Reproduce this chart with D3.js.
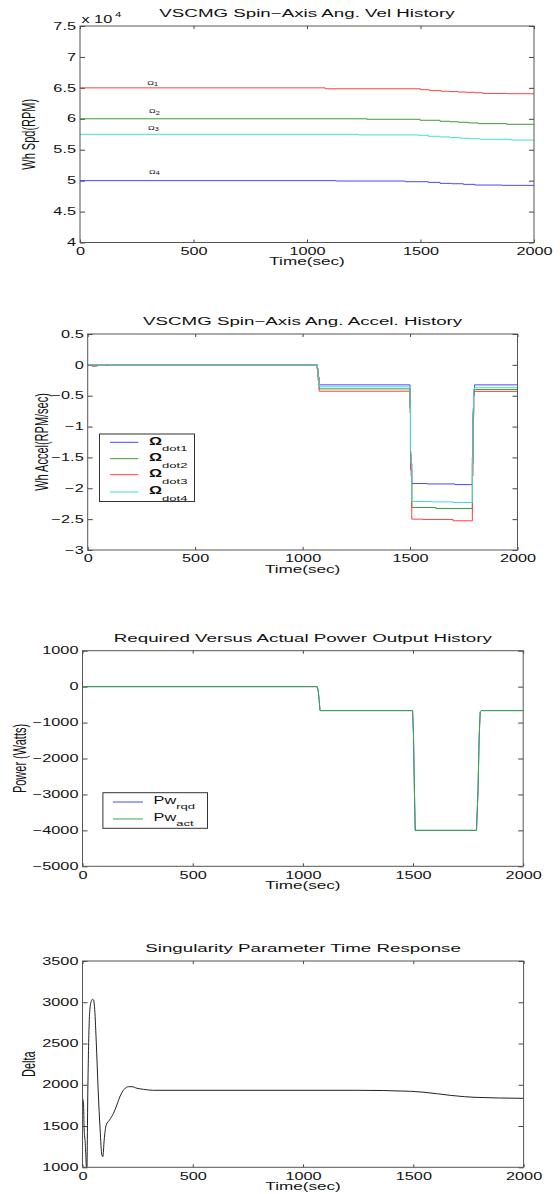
<!DOCTYPE html>
<html>
<head>
<meta charset="utf-8">
<script src="https://cdn.jsdelivr.net/npm/d3@7/dist/d3.min.js"></script>
<style>
body{margin:0;background:#fff}
svg{display:block}
text{font-family:"Liberation Sans",Arial,Helvetica,sans-serif;fill:#111}
</style>
</head>
<body>
<svg id="fig" width="560" height="1194"></svg>
<script>
// shared x axis
var timeTicks=[0,500,1000,1500,2000];
var timeLabels=["0","500","1000","1500","2000"];

// panel 1 : wheel speed (RPM)
var spdTicks=[40000,45000,50000,55000,60000,65000,70000,75000];
var spdLabels=["4","4.5","5","5.5","6","6.5","7","7.5"];
var w1T=[0,1080,1500,1540,1590,1625,1665,1700,1740,1776,1880,2000];
var w1V=[65000,64850,64700,64550,64450,64400,64320,64280,64200,64100,64050,64050];
var w2T=[0,1264,1498,1586,1630,1667,1711,1755,1880,2000];
var w2V=[60000,59920,59760,59600,59520,59440,59330,59220,59110,59110];
var w3T=[0,1227,1491,1535,1586,1630,1674,1718,1762,1900,2000];
var w3V=[57500,57390,57340,57170,57070,56960,56850,56780,56690,56560,56560];
var w4T=[0,1128,1433,1535,1586,1637,1689,1740,1860,2000];
var w4V=[50000,49940,49830,49720,49560,49500,49400,49290,49240,49240];
var omegaNames=["1","2","3","4"];

// panel 2 : wheel acceleration (RPM/sec)
var accTicks=[-3,-2.5,-2,-1.5,-1,-0.5,0,0.5];
var accLabels=["\u22123","\u22122.5","\u22122","\u22121.5","\u22121","\u22120.5","0","0.5"];
var a1T=[0,1068,1072,1077,1500,1502,1505,1508,1580,1710,1790,1793,1796,1800,2000];
var a1V=[0,-0.06,-0.2,-0.324,-0.68,-1.45,-1.6,-1.923,-1.93,-1.94,-1.5,-0.75,-0.4,-0.324,-0.324];
var a2T=[0,20,40,1068,1072,1077,1500,1502,1505,1508,1620,1790,1793,1796,1800,2000];
var a2V=[0,-0.015,0,-0.06,-0.2,-0.389,-0.7,-1.5,-1.7,-2.311,-2.327,-1.6,-0.8,-0.45,-0.4,-0.4];
var a3T=[0,20,45,85,95,1068,1072,1077,1500,1502,1505,1508,1560,1700,1790,1793,1796,1800,2000];
var a3V=[0,-0.02,0,-0.01,0,-0.06,-0.25,-0.427,-0.78,-1.7,-1.8,-2.5,-2.505,-2.527,-1.8,-0.85,-0.5,-0.43,-0.43];
var a4T=[0,1068,1072,1077,1500,1502,1505,1508,1600,1700,1790,1793,1796,1800,2000];
var a4V=[0,-0.05,-0.2,-0.356,-0.65,-1.4,-1.6,-2.214,-2.22,-2.23,-1.5,-0.7,-0.4,-0.37,-0.37];
var accNames=["dot1","dot2","dot3","dot4"];

// panel 3 : power (Watts)
var pwTicks=[-5000,-4000,-3000,-2000,-1000,0,1000];
var pwLabels=["\u22125000","\u22124000","\u22123000","\u22122000","\u22121000","0","1000"];
var pwT=[0,1065,1070,1074,1078,1498,1502,1506,1510,1788,1795,1800,1805,1810,2000];
var pwRqd=[0,0,-120,-380,-667,-667,-1300,-2800,-4000,-4000,-2900,-1420,-700,-667,-667];
var pwAct=[0,0,-120,-380,-667,-667,-1300,-2800,-4000,-4000,-2900,-1420,-700,-667,-667];
var pwNames=["rqd","act"];

// panel 4 : singularity parameter
var dTicks=[1000,1500,2000,2500,3000,3500];
var dLabels=["1000","1500","2000","2500","3000","3500"];
var dT=[0,4.5,7.6,12,19.7,24.2,30.2,34.8,39.3,45.4,49.9,54.4,62,71,80,87.7,92.2,98.3,107.4,122.5,140.6,155.7,170.9,189,208.7,223.8,246.5,276.7,322,1245,1488,1731,1780,2000];
var dV=[1836,1776,1452,1310,947,1937,2745,2947,3007,3036,3028,2947,2543,1937,1452,1149,1129,1331,1513,1573,1654,1755,1864,1945,1977,1977,1958,1945,1933,1933,1921,1856,1848,1836];

var SX=1.63;
var clipN=0;
var svg=d3.select("#fig");
svg.append("rect").attr("width",560).attr("height",1194).attr("fill","#fff");

var stext=function(g,x,y,str,size,anchor)
{
  return g.append("text")
    .attr("transform","translate("+x+","+y+") scale("+SX+",1)")
    .attr("text-anchor",anchor||"start")
    .style("font-size",size+"px")
    .text(str);
}

var panel=function(box,yDom,yTicks,yLabels,title,ylab,ylabX)
{
  var w=box.r-box.l, h=box.b-box.t;
  var g=svg.append("g").attr("transform","translate("+box.l+","+box.t+")");
  var x=d3.scaleLinear().domain([0,2000]).range([0,w]);
  var y=d3.scaleLinear().domain(yDom).range([h,0]);
  var id="clip"+(++clipN);
  g.append("clipPath").attr("id",id).append("rect").attr("width",w).attr("height",h);

  var xa=g.append("g").attr("transform","translate(0,"+h+")")
    .call(d3.axisBottom(x).tickValues(timeTicks).tickFormat(function(d,i){return timeLabels[i]})
      .tickSizeInner(-3).tickSizeOuter(0).tickPadding(5.4));
  var ya=g.append("g")
    .call(d3.axisLeft(y).tickValues(yTicks).tickFormat(function(d,i){return yLabels[i]})
      .tickSizeInner(-5).tickSizeOuter(0).tickPadding(4));
  g.append("g").attr("transform","translate("+w+",0)")
    .call(d3.axisRight(y).tickValues(yTicks).tickFormat("").tickSizeInner(-5).tickSizeOuter(0));
  g.append("g")
    .call(d3.axisTop(x).tickValues(timeTicks).tickFormat("").tickSizeInner(-3).tickSizeOuter(0));
  g.selectAll(".domain").remove();
  g.selectAll(".tick line").attr("stroke","#444");
  g.selectAll(".tick text").attr("fill","#111").style("font-size","10px");
  xa.selectAll(".tick text").attr("transform","scale("+SX+",1)");
  ya.selectAll(".tick text").attr("x",-4/SX).attr("transform","scale("+SX+",1)");

  var lines=g.append("g").attr("clip-path","url(#"+id+")");
  g.append("rect").attr("width",w).attr("height",h).attr("fill","none").attr("stroke","#555");

  stext(svg,box.l+w/2,box.t-8.7,title,11.5,"middle");
  stext(svg,box.l+w/2,box.b+22.7,"Time(sec)",10.5,"middle");
  svg.append("text")
    .attr("transform","translate("+ylabX+","+(box.t+h/2)+") scale("+SX+",1) rotate(-90)")
    .attr("text-anchor","middle")
    .style("font-size","11px")
    .text(ylab);
  return {g:g,lines:lines,x:x,y:y,w:w,h:h};
}

var addLine=function(p,T,V,color,curve)
{
  p.lines.append("path")
    .datum(d3.zip(T,V))
    .attr("fill","none")
    .attr("stroke",color)
    .attr("stroke-width",1)
    .attr("d",d3.line().x(function(d){return p.x(d[0])}).y(function(d){return p.y(d[1])}).curve(curve||d3.curveLinear));
}

var RED="#ff4040", GREEN="#3a9c3a", BLUE="#4848ff", CYAN="#40e0d0";

// ---- panel 1
var p1=panel({l:80,r:534,t:26,b:242.5},[40000,75000],spdTicks,spdLabels,
  "VSCMG Spin\u2212Axis Ang. Vel History","Wh Spd(RPM)",35);
addLine(p1,w1T,w1V,RED,d3.curveStepAfter);
addLine(p1,w2T,w2V,GREEN,d3.curveStepAfter);
addLine(p1,w3T,w3V,CYAN,d3.curveStepAfter);
addLine(p1,w4T,w4V,BLUE,d3.curveStepAfter);
stext(svg,81.4,22.7,"x 10",10,"start");
stext(svg,115,16.5,"4",7,"start");
var omegaAt=[65510,60890,58190,51075];
var omegaX=[147.3,149,148,149];
omegaNames.forEach(function(n,i){
  var t=svg.append("text")
    .attr("transform","translate("+omegaX[i]+","+(p1.y(omegaAt[i])+26)+") scale("+SX+",1)")
    .style("font-size","5.5px");
  t.append("tspan").text("\u03A9");
  t.append("tspan").attr("dy",1.5).style("font-size","4.5px").text(n);
});

// ---- panel 2
var p2=panel({l:87.7,r:517.5,t:334,b:550},[-3,0.5],accTicks,accLabels,
  "VSCMG Spin\u2212Axis Ang. Accel. History","Wh Accel(RPM/sec)",48);
var accColors=[BLUE,GREEN,RED,CYAN];
addLine(p2,a1T,a1V,BLUE,d3.curveStepAfter);
addLine(p2,a2T,a2V,GREEN,d3.curveStepAfter);
addLine(p2,a3T,a3V,RED,d3.curveStepAfter);
addLine(p2,a4T,a4V,CYAN,d3.curveStepAfter);
var leg2=svg.append("g");
leg2.append("rect").attr("x",99.5).attr("y",434).attr("width",95).attr("height",67.5)
  .attr("fill","#fff").attr("stroke","#333");
var leg2Y=[442.3,458.7,474.7,492];
accNames.forEach(function(n,i){
  leg2.append("line").attr("x1",110).attr("x2",138.3).attr("y1",leg2Y[i]).attr("y2",leg2Y[i])
    .attr("stroke",accColors[i]).attr("stroke-width",1);
  var t=leg2.append("text")
    .attr("transform","translate(149,"+(leg2Y[i]+2.3)+") scale("+SX+",1)")
    .style("font-size","10px");
  t.append("tspan").style("font-weight","bold").text("\u03A9");
  t.append("tspan").attr("dy",6.5).style("font-size","8px").text(n);
});

// ---- panel 3
var p3=panel({l:82.5,r:523.2,t:650.7,b:866.3},[-5000,1000],pwTicks,pwLabels,
  "Required Versus Actual Power Output History","Power (Watts)",26);
addLine(p3,pwT,pwRqd,BLUE);
addLine(p3,pwT,pwAct,"#3caa3c");
var leg3=svg.append("g");
leg3.append("rect").attr("x",102.9).attr("y",792.7).attr("width",104.6).attr("height",35.6)
  .attr("fill","#fff").attr("stroke","#333");
var leg3Y=[802,819];
var pwColors=[BLUE,"#3caa3c"];
pwNames.forEach(function(n,i){
  leg3.append("line").attr("x1",112.9).attr("x2",142.9).attr("y1",leg3Y[i]).attr("y2",leg3Y[i])
    .attr("stroke",pwColors[i]).attr("stroke-width",1);
  var t=leg3.append("text")
    .attr("transform","translate(153.6,"+(leg3Y[i]+2)+") scale("+SX+",1)")
    .style("font-size","10px");
  t.append("tspan").text("Pw");
  t.append("tspan").attr("dy",5.3).style("font-size","8px").text(n);
});

// ---- panel 4
var p4=panel({l:82.5,r:523.6,t:961,b:1167.3},[1000,3500],dTicks,dLabels,
  "Singularity Parameter Time Response","Delta",35);
addLine(p4,dT,dV,"#222",d3.curveMonotoneX);
</script>
</body>
</html>
